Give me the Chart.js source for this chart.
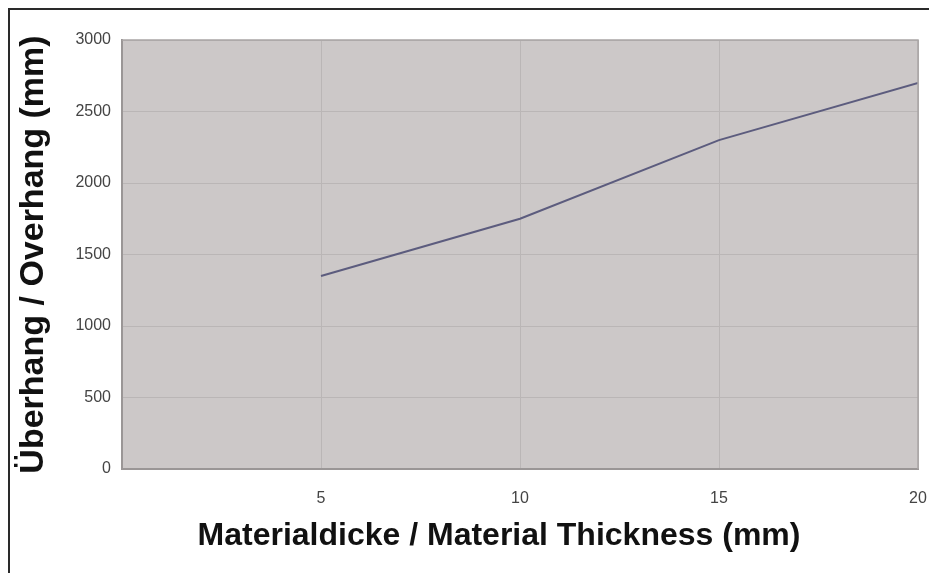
<!DOCTYPE html>
<html>
<head>
<meta charset="utf-8">
<script src="https://cdn.jsdelivr.net/npm/chart.js@4/dist/chart.umd.min.js"></script>
<style>
    html, body { margin: 0; padding: 0; background: #fff; }
    #wrap { width: 929px; height: 573px; }
</style>
</head>
<body>
<div id="wrap"><canvas id="overhangChart" width="929" height="573"></canvas></div>
<script>
const thickness = [5, 10, 15, 20];
const overhang = [1350, 1750, 2300, 2700];
const xTitle = 'Materialdicke / Material Thickness (mm)';
const yTitle = 'Überhang / Overhang (mm)';

// frame, plot background, and the x title (which sits left of the plot centre in the original)
const framePlugin = {
    id: 'frame',
    beforeDraw(chart) {
        const ctx = chart.ctx;
        const a = chart.chartArea;
        ctx.save();
        ctx.fillStyle = '#ccc8c8';
        ctx.fillRect(a.left, a.top, a.right - a.left, a.bottom - a.top);
        ctx.strokeStyle = '#2a2a2a';
        ctx.lineWidth = 2;
        ctx.beginPath();
        ctx.moveTo(9, chart.height);
        ctx.lineTo(9, 9);
        ctx.lineTo(chart.width, 9);
        ctx.stroke();
        ctx.restore();
    },
    afterDatasetsDraw(chart) {
        const ctx = chart.ctx;
        const a = chart.chartArea;
        ctx.save();
        ctx.strokeStyle = '#a9a5a5';
        ctx.lineWidth = 1.5;
        ctx.beginPath();
        ctx.moveTo(a.left, a.top);
        ctx.lineTo(a.right, a.top);
        ctx.lineTo(a.right, a.bottom);
        ctx.stroke();
        ctx.restore();
    },
    afterDraw(chart) {
        const ctx = chart.ctx;
        ctx.save();
        ctx.font = 'bold 32px "Liberation Sans"';
        ctx.fillStyle = '#111';
        ctx.textAlign = 'center';
        ctx.textBaseline = 'alphabetic';
        ctx.fillText(xTitle, 499, 545);
        ctx.restore();
    }
};

const tickFont = { family: 'Liberation Sans', size: 16 };
const titleFont = { family: 'Liberation Sans', weight: 'bold' };

new Chart(document.getElementById('overhangChart'), {
    type: 'line',
    data: {
        datasets: [{
            data: thickness.map((x, i) => ({ x: x, y: overhang[i] })),
            borderColor: '#5c5c7e',
            borderWidth: 2,
            pointRadius: 0,
            tension: 0,
            fill: false
        }]
    },
    options: {
        responsive: false,
        animation: false,
        layout: { padding: { top: 40, right: 0, left: 0, bottom: 0 } },
        plugins: { legend: { display: false }, tooltip: { enabled: false } },
        scales: {
            x: {
                type: 'linear',
                min: 0,
                max: 20,
                afterFit: (scale) => {
                    scale.height = 104;
                    scale.paddingLeft = 0;
                    scale.paddingRight = 11;
                },
                ticks: {
                    stepSize: 5,
                    color: '#444',
                    font: tickFont,
                    padding: 20,
                    maxRotation: 0,
                    callback: (v) => v === 0 ? '' : String(v)
                },
                grid: { color: '#bab6b6', lineWidth: 1, drawTicks: false },
                border: { color: '#9a9696', width: 2 },
                title: { display: false }
            },
            y: {
                min: 0,
                max: 3000,
                afterFit: (scale) => { scale.width = 122; },
                ticks: {
                    stepSize: 500,
                    color: '#444',
                    font: tickFont,
                    padding: 11,
                    callback: (v) => String(v)
                },
                grid: { color: '#bab6b6', lineWidth: 1, drawTicks: false },
                border: { color: '#9a9696', width: 2 },
                title: {
                    display: true,
                    text: yTitle,
                    color: '#111',
                    font: Object.assign({ size: 34 }, titleFont),
                    padding: { top: 13, bottom: 0 }
                }
            }
        }
    },
    plugins: [framePlugin]
});
</script>
</body>
</html>
